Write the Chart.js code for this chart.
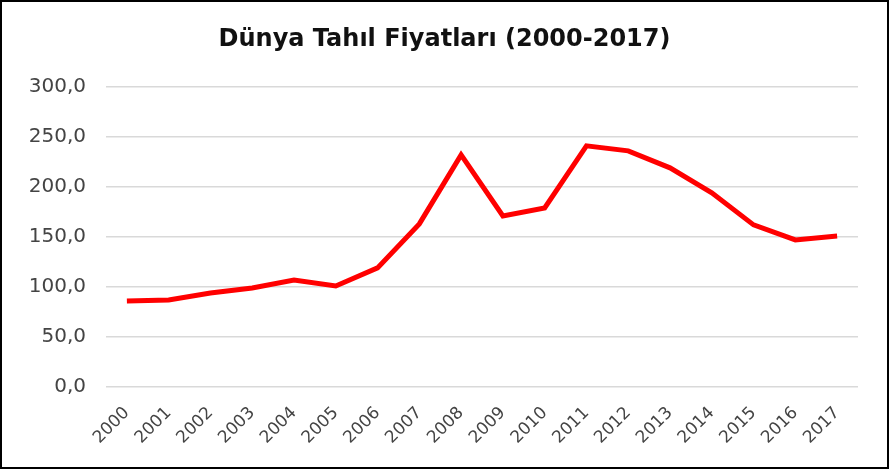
<!DOCTYPE html>
<html>
<head>
<meta charset="utf-8">
<script src="https://cdn.jsdelivr.net/npm/chart.js@4/dist/chart.umd.min.js"></script>
<style>
  html, body { margin: 0; padding: 0; background: #fff; }
  #wrap { width: 889px; height: 469px; box-sizing: border-box; border: 2px solid #000; }
  canvas { display: block; }
</style>
</head>
<body>
<div id="wrap"><canvas id="grainChart" width="885" height="465"></canvas></div>
<script>
const years = ['2000','2001','2002','2003','2004','2005','2006','2007','2008','2009',
               '2010','2011','2012','2013','2014','2015','2016','2017'];
const prices = [86, 87, 94, 99, 107, 101, 119, 163, 232, 171, 179, 241, 236, 219, 194, 162, 147, 151];
const yTicks = [0, 50, 100, 150, 200, 250, 300];

const ctx = document.getElementById('grainChart').getContext('2d');
new Chart(ctx, {
    type: 'line',
    data: {
        labels: years,
        datasets: [{
            data: prices,
            borderColor: '#ff0000',
            borderWidth: 5,
            pointRadius: 0,
            tension: 0,
            fill: false
        }]
    },
    options: {
        responsive: false,
        animation: false,
        layout: { padding: 0 },
        plugins: {
            legend: { display: false },
            tooltip: { enabled: false },
            title: {
                display: true,
                text: 'Dünya Tahıl Fiyatları (2000-2017)',
                color: '#111',
                font: { family: 'DejaVu Sans', size: 24, weight: 'bold' },
                padding: { top: 23, bottom: 33 }
            }
        },
        scales: {
            y: {
                min: 0, max: 300,
                afterBuildTicks: axis => { axis.ticks = yTicks.map(v => ({ value: v })); },
                afterFit: axis => { axis.width = 104; },
                border: { display: false },
                grid: { color: '#d9d9d9', lineWidth: 1.5, drawTicks: false },
                ticks: {
                    color: '#444',
                    padding: 20,
                    font: { family: 'DejaVu Sans', size: 20 },
                    callback: v => v.toFixed(1).replace('.', ',')
                }
            },
            yRight: {
                position: 'right',
                min: 0, max: 300,
                afterFit: axis => { axis.width = 29; },
                border: { display: false },
                grid: { display: false, drawTicks: false },
                ticks: { display: false }
            },
            x: {
                offset: true,
                afterFit: axis => { axis.height = 80; },
                border: { display: false },
                grid: { display: false, drawTicks: false },
                ticks: {
                    color: '#444',
                    padding: 16,
                    maxRotation: 45, minRotation: 45,
                    autoSkip: false,
                    font: { family: 'DejaVu Sans', size: 17 }
                }
            }
        }
    }
});
</script>
</body>
</html>
